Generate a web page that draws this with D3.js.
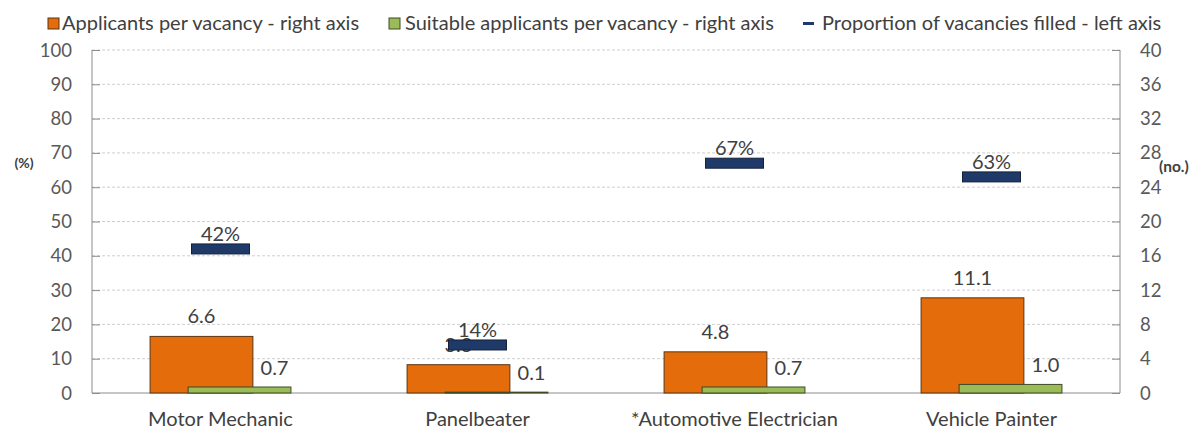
<!DOCTYPE html>
<html>
<head>
<meta charset="utf-8">
<script src="https://cdn.jsdelivr.net/npm/d3@7"></script>
<style>
  body { margin: 0; background: #fff; }
  text { font-family: Lato, "Open Sans", sans-serif; }
</style>
</head>
<body>
<div id="chart"></div>
<script>
var categories = ["Motor Mechanic", "Panelbeater", "*Automotive Electrician", "Vehicle Painter"],
    applicants = [6.6, 3.3, 4.8, 11.1],
    suitable = [0.7, 0.1, 0.7, 1.0],
    filled = [42, 14, 67, 63],
    leftTicks = [0, 10, 20, 30, 40, 50, 60, 70, 80, 90, 100],
    rightTicks = [0, 4, 8, 12, 16, 20, 24, 28, 32, 36, 40];

var width = 1204, height = 433,
    margin = {top: 50, right: 84, bottom: 40, left: 92};

var svg = d3.select("#chart").append("svg")
    .attr("width", width)
    .attr("height", height);

var x = d3.scaleBand()
    .domain(categories)
    .range([margin.left, width - margin.right]);

var yL = d3.scaleLinear().domain([0, 100]).range([height - margin.bottom, margin.top]);
var yR = d3.scaleLinear().domain([0, 40]).range([height - margin.bottom, margin.top]);

var bw = x.bandwidth(),
    barW = bw * 0.4,
    shift = bw * 0.074,
    markW = 58, markH = 10;

// gridlines
svg.append("g")
  .selectAll("line")
  .data(leftTicks.slice(1))
  .enter().append("line")
    .attr("x1", margin.left)
    .attr("x2", width - margin.right)
    .attr("y1", function(d) { return yL(d); })
    .attr("y2", function(d) { return yL(d); })
    .attr("stroke", "#cfcfcf")
    .attr("stroke-dasharray", "3,2");

// left axis
var gl = svg.append("g")
    .attr("transform", "translate(" + margin.left + ",0)")
    .call(d3.axisRight(yL).tickValues(leftTicks).tickSize(8).tickFormat(""));
gl.select(".domain").remove();
gl.selectAll(".tick line").attr("stroke", "#8c8c8c");
svg.append("line")
    .attr("x1", margin.left).attr("x2", margin.left)
    .attr("y1", yL(100)).attr("y2", yL(0))
    .attr("stroke", "#8c8c8c");
svg.append("g").selectAll("text")
  .data(leftTicks)
  .enter().append("text")
    .attr("x", 72)
    .attr("y", function(d) { return yL(d) + 6.5; })
    .attr("text-anchor", "end")
    .attr("font-size", "18.5px")
    .attr("fill", "#595959")
    .text(function(d) { return d; });

// right axis
var gr = svg.append("g")
    .attr("transform", "translate(" + (width - margin.right) + ",0)")
    .call(d3.axisLeft(yR).tickValues(rightTicks).tickSize(8).tickFormat(""));
gr.select(".domain").remove();
gr.selectAll(".tick line").attr("stroke", "#8c8c8c");
svg.append("line")
    .attr("x1", width - margin.right).attr("x2", width - margin.right)
    .attr("y1", yR(40)).attr("y2", yR(0))
    .attr("stroke", "#8c8c8c");
svg.append("g").selectAll("text")
  .data(rightTicks)
  .enter().append("text")
    .attr("x", width - margin.right + 20)
    .attr("y", function(d) { return yR(d) + 6.5; })
    .attr("font-size", "18.5px")
    .attr("fill", "#595959")
    .text(function(d) { return d; });

// bottom axis
svg.append("line")
    .attr("x1", margin.left).attr("x2", width - margin.right)
    .attr("y1", yL(0)).attr("y2", yL(0))
    .attr("stroke", "#8c8c8c");
svg.append("g").selectAll("text")
  .data(categories)
  .enter().append("text")
    .attr("x", function(d) { return x(d) + bw / 2; })
    .attr("y", 426)
    .attr("text-anchor", "middle")
    .attr("font-size", "20px")
    .attr("fill", "#404040")
    .text(function(d) { return d; });

// axis titles
svg.append("text")
    .attr("x", 24).attr("y", 168)
    .attr("text-anchor", "middle")
    .attr("font-size", "14px").attr("font-weight", "bold")
    .attr("fill", "#404040")
    .text("(%)");
svg.append("text")
    .attr("x", 1159).attr("y", 172)
    .attr("font-size", "15.5px").attr("font-weight", "bold")
    .attr("fill", "#404040")
    .text("(no.)");

// applicants bars
svg.append("g").selectAll("rect")
  .data(applicants)
  .enter().append("rect")
    .attr("x", function(d, i) { return x(categories[i]) + bw / 2 - shift - barW / 2; })
    .attr("y", function(d) { return yR(d); })
    .attr("width", barW)
    .attr("height", function(d) { return yR(0) - yR(d); })
    .attr("fill", "#E46C0A")
    .attr("stroke", "#5a3414")
    .attr("stroke-width", 1);

// suitable bars
svg.append("g").selectAll("rect")
  .data(suitable)
  .enter().append("rect")
    .attr("x", function(d, i) { return x(categories[i]) + bw / 2 + shift - barW / 2; })
    .attr("y", function(d) { return yR(d); })
    .attr("width", barW)
    .attr("height", function(d) { return yR(0) - yR(d); })
    .attr("fill", "#9BBB59")
    .attr("stroke", "#3d4a24")
    .attr("stroke-width", 1);

// bar labels
svg.append("g").selectAll("text")
  .data(applicants)
  .enter().append("text")
    .attr("x", function(d, i) { return x(categories[i]) + bw / 2 - shift; })
    .attr("y", function(d) { return yR(d) - 13; })
    .attr("text-anchor", "middle")
    .attr("font-size", "20px")
    .attr("fill", "#404040")
    .text(function(d) { return d3.format(".1f")(d); });
svg.append("g").selectAll("text")
  .data(suitable)
  .enter().append("text")
    .attr("x", function(d, i) { return x(categories[i]) + bw / 2 + shift + 35; })
    .attr("y", function(d) { return yR(d) - 12; })
    .attr("text-anchor", "middle")
    .attr("font-size", "20px")
    .attr("fill", "#404040")
    .text(function(d) { return d3.format(".1f")(d); });

// proportion markers
svg.append("g").selectAll("rect")
  .data(filled)
  .enter().append("rect")
    .attr("x", function(d, i) { return x(categories[i]) + bw / 2 - markW / 2; })
    .attr("y", function(d) { return yL(d) - markH / 2; })
    .attr("width", markW)
    .attr("height", markH)
    .attr("fill", "#1F3A68")
    .attr("stroke", "#14213a");
svg.append("g").selectAll("text")
  .data(filled)
  .enter().append("text")
    .attr("x", function(d, i) { return x(categories[i]) + bw / 2; })
    .attr("y", function(d) { return yL(d) - 8; })
    .attr("text-anchor", "middle")
    .attr("font-size", "20px")
    .attr("fill", "#404040")
    .text(function(d) { return d + "%"; });

// legend
var legend = svg.append("g");
legend.append("rect").attr("x", 48).attr("y", 18).attr("width", 11).attr("height", 11)
    .attr("fill", "#E46C0A").attr("stroke", "#5a3414");
legend.append("text").attr("x", 62).attr("y", 30).attr("font-size", "20px").attr("fill", "#404040")
    .text("Applicants per vacancy - right axis");
legend.append("rect").attr("x", 389).attr("y", 18).attr("width", 11).attr("height", 11)
    .attr("fill", "#9BBB59").attr("stroke", "#3d4a24");
legend.append("text").attr("x", 405).attr("y", 30).attr("font-size", "20px").attr("fill", "#404040")
    .text("Suitable applicants per vacancy - right axis");
legend.append("rect").attr("x", 803).attr("y", 22).attr("width", 11).attr("height", 3)
    .attr("fill", "#1F3A68");
legend.append("text").attr("x", 822).attr("y", 30).attr("font-size", "20px").attr("fill", "#404040")
    .text("Proportion of vacancies filled - left axis");
</script>
</body>
</html>
